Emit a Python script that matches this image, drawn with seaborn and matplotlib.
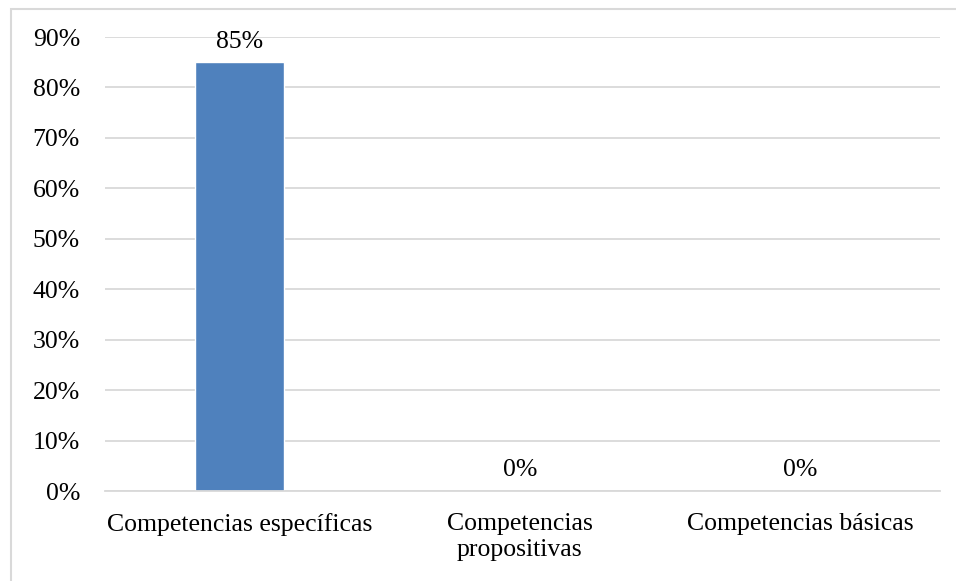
import matplotlib
matplotlib.use("Agg")
import matplotlib.pyplot as plt
import seaborn as sns
import pandas as pd
from matplotlib.patches import Rectangle

categories = ["Competencias específicas", "Competencias\npropositivas", "Competencias básicas"]
values = [85, 0, 0]
value_labels = ["85%", "0%", "0%"]
yticks = [0, 10, 20, 30, 40, 50, 60, 70, 80, 90]

sns.set_theme(style="white")
plt.rcParams['font.family'] = ['Liberation Serif', 'DejaVu Serif']

FS = 18.5
df = pd.DataFrame({"cat": categories, "val": values})

fig = plt.figure(figsize=(9.56, 5.81), dpi=100)
ax = fig.add_axes([105/956, 1 - 491/581, (940-105)/956, (491-37)/581])

sns.barplot(data=df, x="cat", y="val", color="#4f81bd", width=0.316, saturation=1, ax=ax)

ax.set_xlim(-0.48, 2.5)
ax.set_ylim(0, 90)
ax.set_yticks(yticks)
ax.set_yticklabels([f"{t}%" for t in yticks], fontsize=FS, color="black")
ax.tick_params(axis="y", length=0, pad=18)
ax.tick_params(axis="x", length=0, pad=16, labelsize=FS, labelcolor="black")
for lab in ax.get_xticklabels():
    lab.set_linespacing(1.2)
ax.set_xlabel("")
ax.set_ylabel("")
ax.grid(axis="y", color="#d9d9d9", linewidth=1.3)
ax.set_axisbelow(True)
for s in ["top", "right", "left"]:
    ax.spines[s].set_visible(False)
ax.spines["bottom"].set_color("#d9d9d9")
ax.spines["bottom"].set_linewidth(1.3)

for c in ax.containers:
    ax.bar_label(c, labels=value_labels, padding=7, fontsize=FS, color="black")

fig.patches.append(Rectangle((11/956, -0.1), 1.2, 1 - 9/581 + 0.1, transform=fig.transFigure,
                             fill=False, edgecolor="#d9d9d9", linewidth=1.5))

fig.savefig("out.png", dpi=100)
